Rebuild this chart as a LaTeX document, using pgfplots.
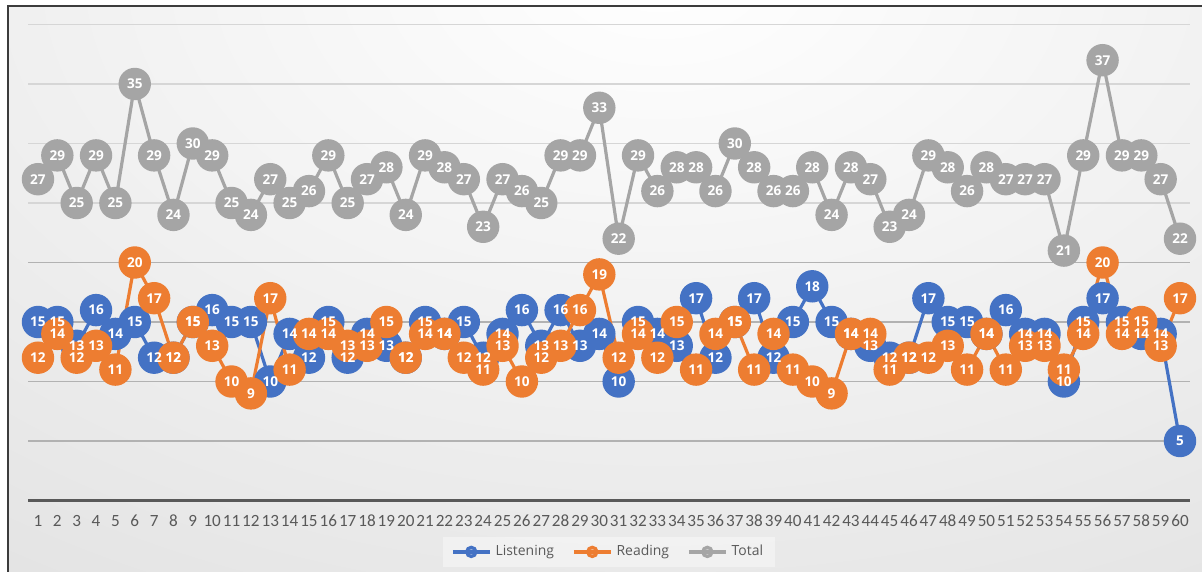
\documentclass[border=0pt]{standalone}
\usepackage{pgfplots}
\usepackage{pgfplotstable}
\pgfplotsset{compat=1.18}
\usepackage{fontspec}
\setmainfont{Open Sans}
\newfontfamily\tickfont{Carlito}

\definecolor{lblue}{HTML}{4472C4}
\definecolor{rorange}{HTML}{ED7D31}
\definecolor{tgray}{HTML}{A5A5A5}
\definecolor{txtgray}{HTML}{595959}
\definecolor{gridlight}{HTML}{D6D6D6}
\definecolor{griddark}{HTML}{B2B2B2}
\definecolor{bgouter}{HTML}{D2D2D2}
\definecolor{framec}{HTML}{3C3C3C}

% scores per test: listening, reading, total
\pgfplotstableread{
n L R T
1 15 12 27
2 15 14 29
3 13 12 25
4 16 13 29
5 14 11 25
6 15 20 35
7 12 17 29
8 12 12 24
9 15 15 30
10 16 13 29
11 15 10 25
12 15 9 24
13 10 17 27
14 14 11 25
15 12 14 26
16 15 14 29
17 12 13 25
18 14 13 27
19 13 15 28
20 12 12 24
21 15 14 29
22 14 14 28
23 15 12 27
24 12 11 23
25 14 13 27
26 16 10 26
27 13 12 25
28 16 13 29
29 13 16 29
30 14 19 33
31 10 12 22
32 15 14 29
33 14 12 26
34 13 15 28
35 17 11 28
36 12 14 26
37 15 15 30
38 17 11 28
39 12 14 26
40 15 11 26
41 18 10 28
42 15 9 24
43 14 14 28
44 13 14 27
45 12 11 23
46 12 12 24
47 17 12 29
48 15 13 28
49 15 11 26
50 14 14 28
51 16 11 27
52 14 13 27
53 14 13 27
54 10 11 21
55 15 14 29
56 17 20 37
57 15 14 29
58 14 15 29
59 14 13 27
60 5 17 22
}\scores

\begin{document}
\begin{tikzpicture}
\useasboundingbox (0,0) rectangle (601bp,286bp);
\fill[white] (0,0) rectangle (601bp,286bp);
% chart area background
\begin{scope}
  \clip (4bp,0bp) rectangle (601bp,283bp);
  \fill[bgouter] (4bp,0bp) rectangle (601bp,283bp);
  \shade[inner color=white, outer color=bgouter] (330bp,300bp) ellipse (960bp and 600bp);
\end{scope}
\draw[framec, line width=1.2bp] (4bp,0bp) -- (4bp,283bp) -- (601bp,283bp);

\begin{axis}[
  at={(14.15bp,35.75bp)}, anchor=south west,
  scale only axis, width=580.7bp, height=238bp,
  xmin=0.5, xmax=60.5, ymin=0, ymax=40,
  clip=false,
  /pgf/number format/assume math mode=true,
  axis x line*=bottom, axis y line*=left,
  x axis line style={-, draw=txtgray, line width=1.4bp},
  y axis line style={draw=none},
  xtick={1,...,60},
  xticklabel={\pgfmathprintnumber{\tick}},
  xticklabel style={font=\tickfont\fontsize{8.6}{9}\selectfont, text=txtgray, anchor=center, yshift=-10.25bp},
  xtick style={draw=none},
  ytick={25,30,35,40}, yticklabels={}, ytick style={draw=none},
  extra y ticks={5,10,15,20}, extra y tick labels={},
  extra y tick style={grid style={griddark, line width=0.8bp}, ytick style={draw=none}},
  ymajorgrids, grid style={gridlight, line width=0.8bp},
  every axis plot/.append style={line width=1.6bp, mark=*, mark size=7.3bp},
  legend columns=3,
  legend style={at={(0.5,-0.108)}, anchor=center, draw=none,
    fill=white, fill opacity=0.4, text opacity=1,
    font=\fontsize{7}{8}\selectfont, text=txtgray,
    inner xsep=4bp, inner ysep=2bp,
    /tikz/every even column/.append style={column sep=7bp}},
  legend cell align=left,
  legend image code/.code={%
    \draw[mark=none, line width=1.8bp] (0bp,0bp) -- (18.5bp,0bp);
    \fill (9.25bp,0bp) circle (2.3bp);},
  label nodes/.style={draw=none, mark=none, forget plot, nodes near coords,
    every node near coord/.append style={anchor=center, text=white, inner sep=0pt,
      font=\fontsize{6.8}{7}\selectfont\bfseries}},
]
\addplot[lblue, mark options={fill=lblue, draw=lblue}] table[x=n, y=L] {\scores};
\addlegendentry{Listening}
\addplot[rorange, mark options={fill=rorange, draw=rorange}] table[x=n, y=R] {\scores};
\addlegendentry{Reading}
\addplot[tgray, mark options={fill=tgray, draw=tgray}] table[x=n, y=T] {\scores};
\addlegendentry{Total}
% value labels above all markers
\addplot[label nodes] table[x=n, y=L] {\scores};
\addplot[label nodes] table[x=n, y=R] {\scores};
\addplot[label nodes] table[x=n, y=T] {\scores};
\end{axis}
\end{tikzpicture}
\end{document}
